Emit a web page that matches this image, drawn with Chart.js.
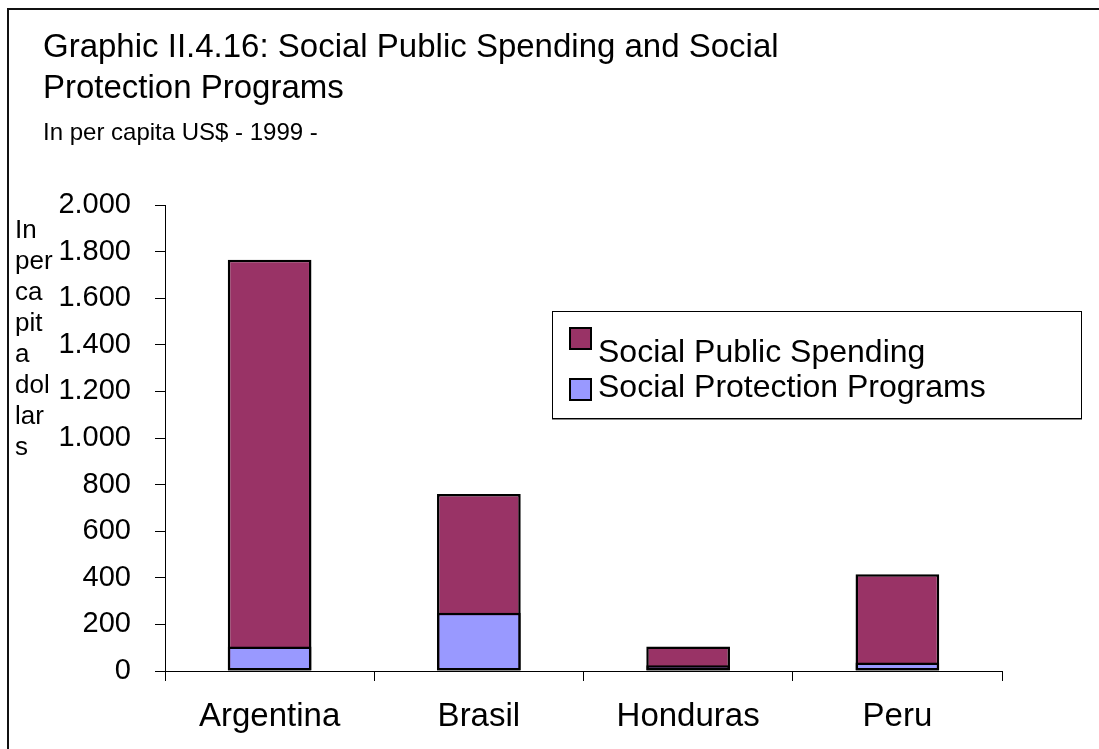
<!DOCTYPE html>
<html lang="en">
<head>
  <meta charset="UTF-8">
  <title>Graphic II.4.16: Social Public Spending and Social Protection Programs</title>
  <script src="https://cdn.jsdelivr.net/npm/chart.js"></script>
  <style>
    html, body { margin: 0; padding: 0; background: #fff; overflow: hidden; }
    body { width: 1099px; height: 749px; position: relative; font-family: "Liberation Sans", Arial, sans-serif; color: #000; }
    #frame { position: absolute; left: 7px; top: 8px; right: -10px; bottom: -10px; border-left: 2px solid #111; border-top: 2px solid #111; }
    #chart { position: absolute; left: 0; top: 0; }
    .txt { position: absolute; white-space: nowrap; line-height: 1; }
    #title1 { left: 43px; top: 29px; font-size: 33px; }
    #title2 { left: 43px; top: 70px; font-size: 33px; }
    #subtitle { left: 43px; top: 120px; font-size: 24px; }
    #ylabel { position: absolute; left: 15px; top: 214px; font-size: 26px; line-height: 31px; }
    #legend { position: absolute; left: 552px; top: 311px; width: 528px; height: 106px; border: 1px solid #000; box-shadow: 0 1px 0 #888; background: #fff; }
    .sw { position: absolute; width: 19px; height: 19px; border: 2px solid #000; }
    .lt { position: absolute; font-size: 32px; line-height: 1; white-space: nowrap; }
  </style>
</head>
<body>
  <div id="frame"></div>
  <canvas id="chart" width="1099" height="749"></canvas>

  <div class="txt" id="title1">Graphic II.4.16: Social Public Spending and Social</div>
  <div class="txt" id="title2">Protection Programs</div>
  <div class="txt" id="subtitle">In per capita US$ - 1999 -</div>
  <div id="ylabel">In<br>per<br>ca<br>pit<br>a<br>dol<br>lar<br>s</div>
  <div id="legend"></div>

  <script>
    const countries = ['Argentina', 'Brasil', 'Honduras', 'Peru'];
    const socialSpending = [1765, 760, 105, 415];
    const protectionPrograms = [105, 250, 25, 36];
    const seriesNames = ['Social Public Spending', 'Social Protection Programs'];
    const seriesColors = ['#993366', '#9999FF'];

    const font = { family: '"Liberation Sans", Arial, sans-serif' };

    // 1800 -> "1.800"
    const fmt = v => String(v).replace(/\B(?=(\d{3})+(?!\d))/g, '.');

    const chart = new Chart(document.getElementById('chart'), {
      type: 'bar',
      data: {
        labels: countries,
        datasets: [
          { label: seriesNames[0], data: socialSpending, backgroundColor: seriesColors[0], order: 2 },
          { label: seriesNames[1], data: protectionPrograms, backgroundColor: seriesColors[1], order: 1 }
        ]
      },
      options: {
        responsive: false,
        animation: false,
        layout: { padding: { left: 0, right: 97, top: 205, bottom: 0 } },
        datasets: {
          // both series share one bar slot, protection drawn over spending
          bar: { grouped: false, barPercentage: 0.4, categoryPercentage: 1, borderColor: '#000', borderWidth: 2.5, borderSkipped: false }
        },
        plugins: { legend: { display: false }, tooltip: { enabled: false } },
        scales: {
          x: {
            grid: { offset: true, drawOnChartArea: false, tickLength: 10, color: '#000' },
            border: { color: '#000', width: 1 },
            ticks: { color: '#000', font: { ...font, size: 33 }, padding: 16, maxRotation: 0 },
            afterFit: s => { s.height = 78; }
          },
          y: {
            min: 0, max: 2000,
            grid: { drawOnChartArea: false, tickLength: 10, color: '#000' },
            border: { color: '#000', width: 1 },
            ticks: { stepSize: 200, color: '#000', font: { ...font, size: 29 }, padding: 24, callback: v => fmt(v) },
            afterFit: s => { s.width = 165; }
          }
        }
      }
    });

    // legend box built from the series names and colours
    const legend = document.getElementById('legend');
    const rows = [{ sw: 15, txt: 23 }, { sw: 66, txt: 58 }];
    seriesNames.forEach((name, i) => {
      const sw = document.createElement('div');
      sw.className = 'sw';
      sw.style.left = '16px';
      sw.style.top = rows[i].sw + 'px';
      sw.style.background = seriesColors[i];
      legend.appendChild(sw);
      const t = document.createElement('div');
      t.className = 'lt';
      t.style.left = '45px';
      t.style.top = rows[i].txt + 'px';
      t.textContent = name;
      legend.appendChild(t);
    });
  </script>
</body>
</html>
